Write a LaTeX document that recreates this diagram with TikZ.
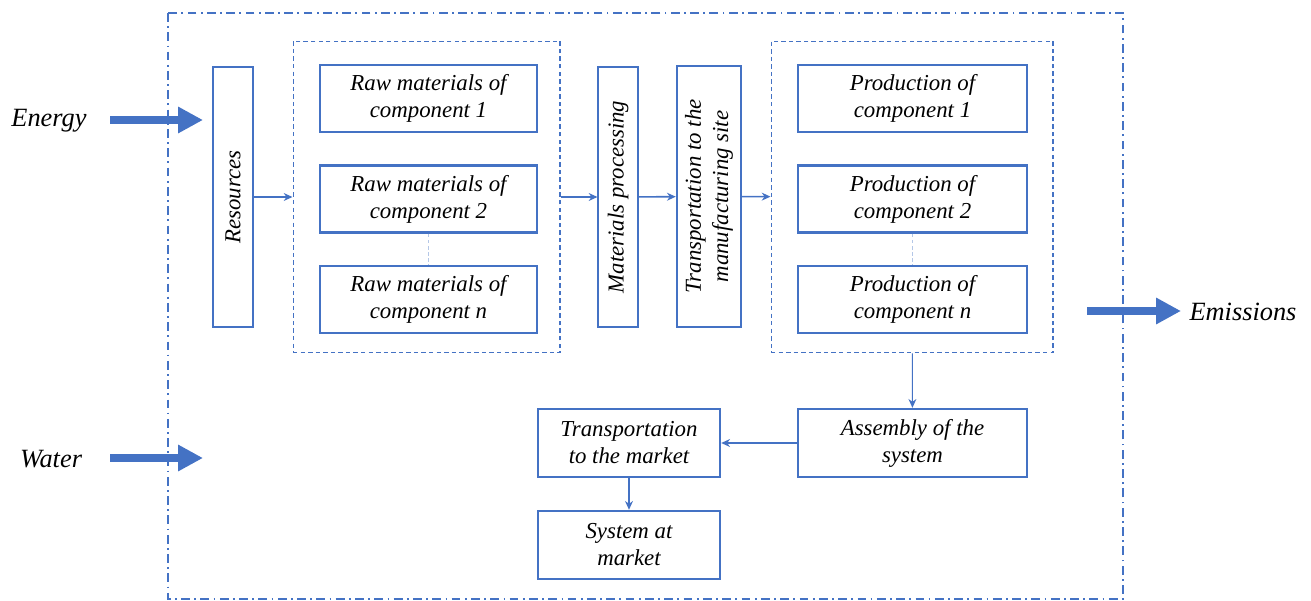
\documentclass[tikz,border=0pt]{standalone}
\usepackage{fontspec}
\setmainfont{Liberation Serif}
\usepackage{tikz}
\usetikzlibrary{arrows.meta, positioning}
\definecolor{lcablue}{RGB}{68,114,196}

\begin{document}
\begin{tikzpicture}[x=0.02cm, y=-0.02cm,
  txt/.style={font=\fontsize{13}{15.4}\selectfont\itshape, align=center, inner sep=0pt},
  outer/.style={txt, font=\fontsize{15}{18}\selectfont\itshape},
  box/.style={txt, rectangle, draw=lcablue, line width=1.4pt, fill=white},
  thinbox/.style={txt, rectangle, draw=lcablue, line width=0.6pt, fill=white},
  grp/.style={rectangle, draw=lcablue, line width=0.6pt, dash pattern=on 2.5pt off 1.8pt, inner sep=0pt},
  arr/.style={-{Stealth[length=5pt, width=4.5pt]}, draw=lcablue, line width=0.6pt},
  arrb/.style={-{Stealth[length=5pt, width=4.5pt]}, draw=lcablue, line width=0.9pt},
  link/.style={draw=lcablue!40, line width=0.6pt, dash pattern=on 2pt off 1.5pt},
  big/.style={-{Triangle[length=0.5cm, width=0.5cm]}, draw=lcablue, line width=4pt}
]
\useasboundingbox (0,0) rectangle (1311,601);

% system boundary
\draw[lcablue, line width=0.8pt, dash pattern=on 5pt off 2.5pt on 1pt off 2.5pt] (168,13) rectangle (1123,599);

% groups of components
\node[grp, minimum width=5.34cm, minimum height=6.24cm] (grpraw) at (426.5,197) {};
\node[grp, minimum width=5.64cm, minimum height=6.24cm] (grpprod) at (912,197) {};

\node[thinbox, rotate=90, minimum width=5.2cm, minimum height=0.8cm] (res) at (233,197) {Resources};

\node[box, minimum width=4.34cm, minimum height=1.34cm] (raw1) at (428.5,98.5) {Raw materials of\\component 1};
\node[box, minimum width=4.34cm, minimum height=1.34cm] (raw2) at (428.5,199) {Raw materials of\\component 2};
\node[box, minimum width=4.34cm, minimum height=1.34cm] (rawn) at (428.5,299.5) {Raw materials of\\component n};

\node[thinbox, rotate=90, minimum width=5.2cm, minimum height=0.8cm] (proc) at (618,197) {Materials processing};
\node[box, rotate=90, minimum width=5.22cm, minimum height=1.28cm] (tsite) at (709,196.5) {Transportation to the\\manufacturing site};

\node[box, minimum width=4.58cm, minimum height=1.34cm] (prod1) at (912.5,98.5) {Production of\\component 1};
\node[box, minimum width=4.58cm, minimum height=1.34cm] (prod2) at (912.5,199) {Production of\\component 2};
\node[box, minimum width=4.58cm, minimum height=1.34cm] (prodn) at (912.5,299.5) {Production of\\component n};

\node[box, minimum width=4.58cm, minimum height=1.36cm] (asm) at (912.5,443) {Assembly of the\\system};
\node[box, minimum width=3.64cm, minimum height=1.36cm] (tmkt) at (629,443) {Transportation\\to the market};
\node[box, minimum width=3.64cm, minimum height=1.36cm] (sysm) at (629,545) {System at\\market};

\draw[link] (raw2) -- (rawn);
\draw[link] (prod2) -- (prodn);

\draw[arr] (res) -- (grpraw);
\draw[arr] (grpraw) -- (proc);
\draw[arrb] (proc) -- (tsite);
\draw[arrb] (tsite) -- (grpprod);
\draw[arr] (grpprod) -- (asm);
\draw[arrb] (asm) -- (tmkt);
\draw[arr] (tmkt) -- (sysm);

% inputs and outputs
\node[outer] (energy) at (49,121) {Energy};
\node[outer] (water) at (51,459) {Water};
\node[outer] (emis) at (1243,312) {Emissions};
\coordinate (energyS) at (110,120);
\coordinate (energyE) at (203,120);
\coordinate (waterS) at (110,458);
\coordinate (waterE) at (203,458);
\coordinate (emisS) at (1087,311);
\coordinate (emisE) at (1181,311);
\draw[big] (energyS) -- (energyE);
\draw[big] (waterS) -- (waterE);
\draw[big] (emisS) -- (emisE);
\end{tikzpicture}
\end{document}
